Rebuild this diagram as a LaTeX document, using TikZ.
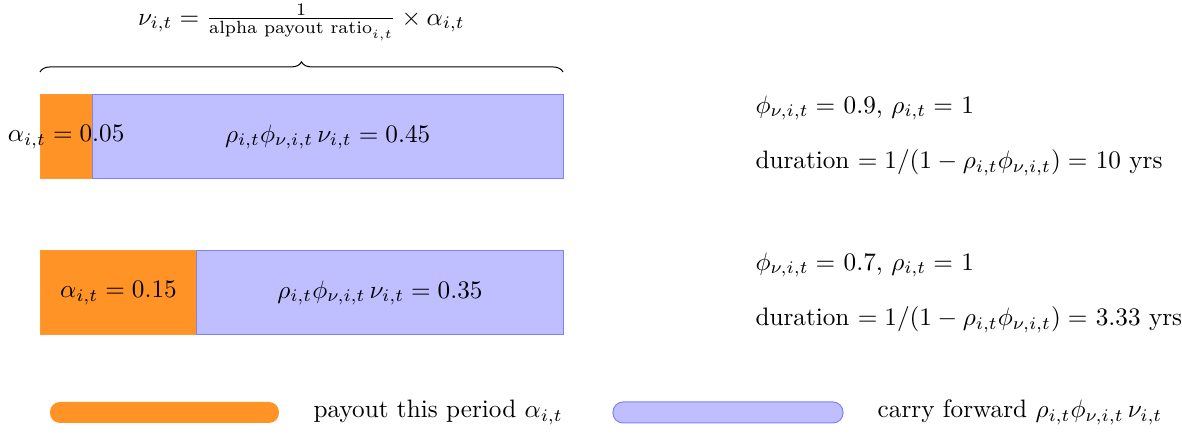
\documentclass[tikz,border=0pt]{standalone}
\usepackage{amsmath}
\usepackage{tikz}
\usetikzlibrary{decorations.pathreplacing,positioning,calc}
\tikzset{
  payout/.style={
    inner sep = 0,
    outer sep = 0,
    shape = rectangle,
    draw = orange!80,
    fill = orange!85
  },
  carry/.style={
    inner sep = 0,
    outer sep = 0,
    shape = rectangle,
    draw = blue!50,
    fill = blue!25
  },
  note/.style={
    anchor = west,
    inner sep = 0pt
  },
  topbrace/.style={
    decorate,
    decoration={brace, amplitude=4pt}
  }
}

\begin{document}
\begin{tikzpicture}
    \def\xl{0.558}
    \def\bw{7.294}
    \def\bh{1.172}
    \def\ya{3.543}
    \def\yb{1.367}
    \useasboundingbox (0,0) rectangle (16.485,6.039);
    % first bar
    \node[payout, anchor=south west, minimum width=0.1*\bw*1cm, minimum height=\bh*1cm] (pay1) at (\xl,\ya) {};
    \node[carry, anchor=west, minimum width=0.9*\bw*1cm, minimum height=\bh*1cm] (car1) at (pay1.east) {};
    \node (lpay1) at (pay1.center) {$\alpha_{i,t} = 0.05$};
    \node (lcar1) at (car1.center) {$\rho_{i,t}\phi_{\nu,i,t}\,\nu_{i,t} = 0.45$};
    % second bar
    \node[payout, anchor=south west, minimum width=0.3*\bw*1cm, minimum height=\bh*1cm] (pay2) at (\xl,\yb) {};
    \node[carry, anchor=west, minimum width=0.7*\bw*1cm, minimum height=\bh*1cm] (car2) at (pay2.east) {};
    \node (lpay2) at (pay2.center) {$\alpha_{i,t} = 0.15$};
    \node (lcar2) at (car2.center) {$\rho_{i,t}\phi_{\nu,i,t}\,\nu_{i,t} = 0.35$};
    % brace over the first bar
    \coordinate (bl) at ([yshift=0.32cm]pay1.north west);
    \coordinate (br) at ([yshift=0.32cm]car1.north east);
    \draw[topbrace] (bl) -- (br);
    \node (nu) at ($(bl)!0.5!(br)+(0,0.69)$) {$\nu_{i,t} = \frac{1}{\text{alpha payout ratio}_{i,t}} \times \alpha_{i,t}$};
    % parameters
    \node[note] (par1) at (10.53,4.533) {$\phi_{\nu,i,t} =$ 0.9, $\rho_{i,t} =$ 1};
    \node[note] (dur1) at (10.53,3.766) {duration $= 1/(1-\rho_{i,t}\phi_{\nu,i,t}) =$ 10 yrs};
    \node[note] (par2) at (10.53,2.343) {$\phi_{\nu,i,t} =$ 0.7, $\rho_{i,t} =$ 1};
    \node[note] (dur2) at (10.53,1.576) {duration $= 1/(1-\rho_{i,t}\phi_{\nu,i,t}) =$ 3.33 yrs};
    % legend
    \node[payout, draw=none, rounded corners=0.14cm, minimum width=3.194cm, minimum height=0.293cm] (legpay) at (2.294,0.286) {};
    \node[right=0.36cm of legpay] (txtpay) {payout this period $\alpha_{i,t}$};
    \node[carry, rounded corners=0.14cm, minimum width=3.208cm, minimum height=0.293cm] (legcar) at (10.153,0.286) {};
    \node[right=0.36cm of legcar] (txtcar) {carry forward $\rho_{i,t}\phi_{\nu,i,t}\,\nu_{i,t}$};
\end{tikzpicture}
\end{document}
